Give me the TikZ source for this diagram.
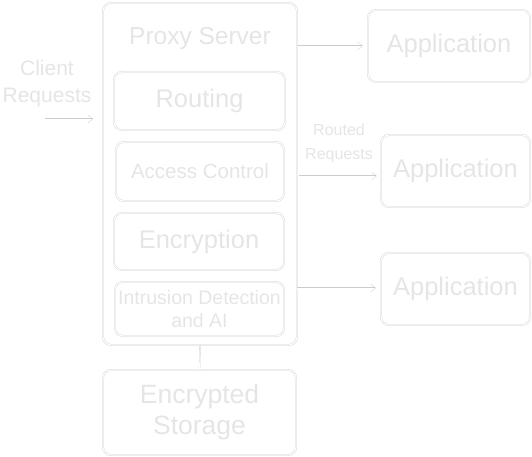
\documentclass[tikz,border=0pt]{standalone}
\usepackage{fontspec}
\setmainfont{Liberation Sans}
\usetikzlibrary{arrows.meta}
\begin{document}
\begin{tikzpicture}[x=1pt,y=-1pt,
  box/.style={draw=black!20, double=white, double distance=1.1pt, line width=0.35pt, rounded corners=8pt, text=black!10, align=center, inner sep=0pt},
  lbl/.style={text=black!10, align=center, inner sep=0pt},
  conn/.style={draw=black!20, double=white, double distance=0.8pt, line width=0.3pt},
  arr/.style={conn, -{Straight Barb[length=5pt,width=8pt]}}]
\useasboundingbox (0,0) rectangle (532,457);
% proxy server container
\node[box, minimum width=194pt, minimum height=342pt] (proxy) at (200,174) {};
\node[lbl, font=\fontsize{24.5}{26}\selectfont] (ptitle) at (200,38) {Proxy Server};
\node[box, minimum width=171pt, minimum height=58pt, font=\fontsize{25.5}{28}\selectfont] (routing) at (199.5,101) {Routing};
\node[box, minimum width=168pt, minimum height=59pt, font=\fontsize{20.5}{23}\selectfont] (access) at (200,171.5) {Access Control};
\node[box, minimum width=170pt, minimum height=57pt, font=\fontsize{25.5}{28}\selectfont] (encr) at (199,241.5) {Encryption};
\node[box, minimum width=169pt, minimum height=54pt, font=\fontsize{19.5}{23}\selectfont] (ids) at (199.5,309) {Intrusion Detection\\and AI};
% storage
\node[box, minimum width=193pt, minimum height=85pt, font=\fontsize{26.5}{31}\selectfont] (store) at (199.5,412.5) {Encrypted\\Storage};
\draw[conn] (proxy.south) -- (store.north);
% client requests
\node[lbl, font=\fontsize{21}{27}\selectfont] (client) at (47,83.5) {Client\\Requests};
\coordinate (cstart) at (45,119);
\coordinate (cend) at (93,119);
\draw[arr] (cstart) -- (cend);
% applications
\node[box, minimum width=162pt, minimum height=72pt, font=\fontsize{25.5}{28}\selectfont] (app1) at (449,46) {Application};
\node[box, minimum width=149pt, minimum height=72pt, font=\fontsize{25.5}{28}\selectfont] (app2) at (455.5,171) {Application};
\node[box, minimum width=149pt, minimum height=72pt, font=\fontsize{25.5}{28}\selectfont] (app3) at (455.5,289) {Application};
\node[lbl, font=\fontsize{16}{24}\selectfont] (routed) at (339,143) {Routed\\Requests};
\coordinate (r1) at (297,46);
\coordinate (r2) at (299,176);
\coordinate (r3) at (297,288);
\draw[arr, shorten >=5pt] (r1) -- (r1 -| app1.west);
\draw[arr, shorten >=4pt] (r2) -- (r2 -| app2.west);
\draw[arr, shorten >=5pt] (r3) -- (r3 -| app3.west);
\end{tikzpicture}
\end{document}
